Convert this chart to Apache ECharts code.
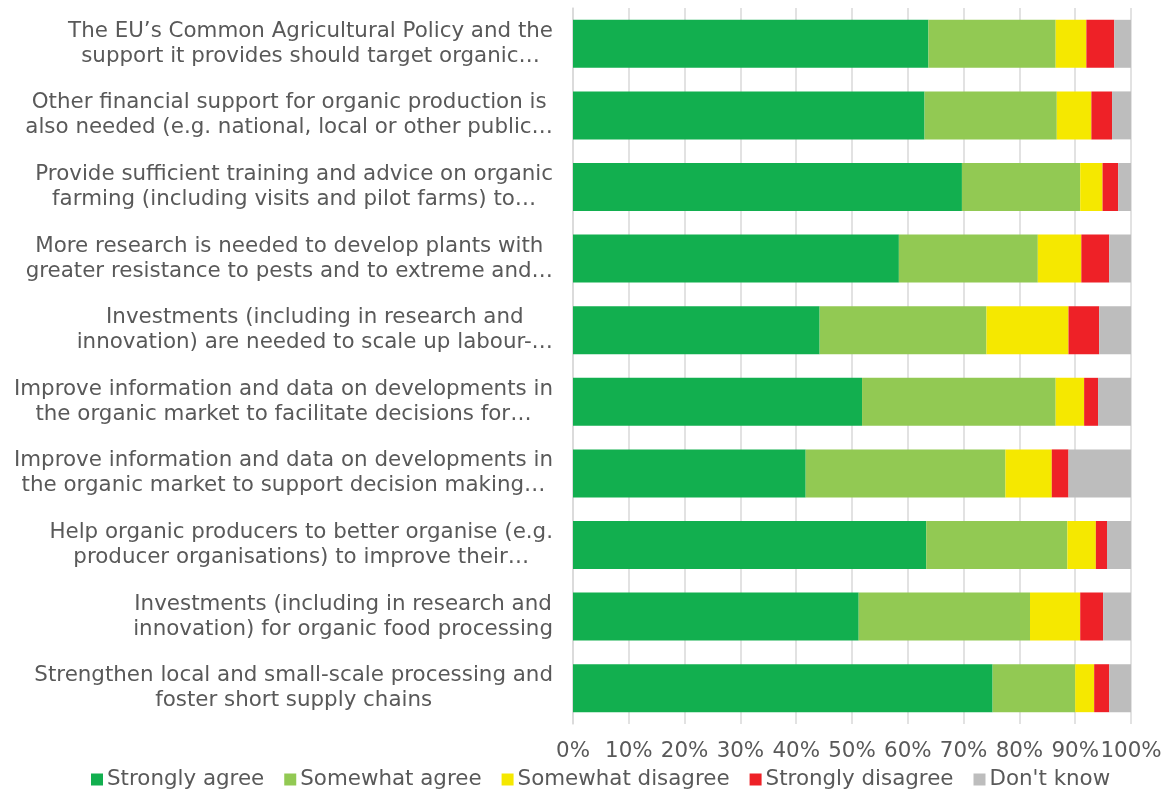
<!DOCTYPE html>
<html>
<head>
<meta charset="utf-8">
<script src="https://cdn.jsdelivr.net/npm/echarts@6/dist/echarts.min.js"></script>
<style>
html,body{margin:0;padding:0;background:#fff;}
#chart{width:1170px;height:789px;}
</style>
</head>
<body>
<div id="chart"></div>
<script>
const categories = [
  "The EU’s Common Agricultural Policy and the\nsupport it provides should target organic…",
  "Other financial support for organic production is\nalso needed (e.g. national, local or other public…",
  "Provide sufficient training and advice on organic\nfarming (including visits and pilot farms) to…",
  "More research is needed to develop plants with\ngreater resistance to pests and to extreme and…",
  "Investments (including in research and\ninnovation) are needed to scale up labour-…",
  "Improve information and data on developments in\nthe organic market to facilitate decisions for…",
  "Improve information and data on developments in\nthe organic market to support decision making…",
  "Help organic producers to better organise (e.g.\nproducer organisations) to improve their…",
  "Investments (including in research and\ninnovation) for organic food processing",
  "Strengthen local and small-scale processing and\nfoster short supply chains"
];
const seriesNames = ["Strongly agree", "Somewhat agree", "Somewhat disagree", "Strongly disagree", "Don't know"];
const stronglyAgree    = [63.7, 63.0, 69.7, 58.4, 44.2, 51.8, 41.7, 63.3, 51.2, 75.2];
const somewhatAgree    = [22.8, 23.7, 21.2, 24.9, 29.9, 34.7, 35.8, 25.3, 30.7, 14.8];
const somewhatDisagree = [5.5, 6.2, 4.0, 7.8, 14.7, 5.1, 8.3, 5.1, 9.0, 3.4];
const stronglyDisagree = [5.0, 3.7, 2.8, 5.0, 5.5, 2.5, 3.0, 2.0, 4.1, 2.7];
const dontKnow         = [3.0, 3.4, 2.3, 3.9, 5.7, 5.9, 11.2, 4.3, 5.0, 3.9];
const colors = ["#12AF4F", "#92C953", "#F5E800", "#EE2127", "#BDBDBD"];

const valuesList = [stronglyAgree, somewhatAgree, somewhatDisagree, stronglyDisagree, dontKnow];
const FONT = "DejaVu Sans";
const TXT = "#595959";
const FS = 21.4;

const chart = echarts.init(document.getElementById('chart'));
chart.setOption({
  animation: false,
  textStyle: {fontFamily: FONT},
  grid: {left: 573, right: 39, top: 8, bottom: 65, containLabel: false},
  legend: {
    data: seriesNames,
    left: 86,
    top: 764,
    icon: 'rect',
    itemWidth: 12,
    itemHeight: 12,
    itemGap: 20,
    textStyle: {fontFamily: FONT, fontSize: FS, color: TXT, padding: [0, 0, 0, -1]}
  },
  xAxis: {
    type: 'value',
    min: 0,
    max: 100,
    interval: 10,
    axisLine: {show: false},
    axisTick: {show: false},
    splitLine: {show: true, lineStyle: {color: '#D9D9D9', width: 1.5}},
    axisLabel: {
      formatter: '{value}%',
      fontFamily: FONT,
      fontSize: FS,
      color: TXT,
      margin: 17
    }
  },
  yAxis: {
    type: 'category',
    inverse: true,
    data: categories,
    axisLine: {show: true, lineStyle: {color: '#D9D9D9', width: 1.5}},
    axisTick: {show: false},
    axisLabel: {
      margin: 20,
      align: 'right',
      fontFamily: FONT,
      fontSize: FS,
      color: TXT,
      lineHeight: 25,
      formatter: function (v) {
        return v.split('\n').map(function (l) { return '{c|' + l + '}'; }).join('\n');
      },
      rich: {
        c: {align: 'center', fontFamily: FONT, fontSize: FS, color: TXT, lineHeight: 25}
      }
    }
  },
  series: seriesNames.map(function (name, i) {
    return {
      name: name,
      type: 'bar',
      stack: 'total',
      barCategoryGap: '33%',
      itemStyle: {color: colors[i]},
      data: valuesList[i]
    };
  })
});
</script>
</body>
</html>
